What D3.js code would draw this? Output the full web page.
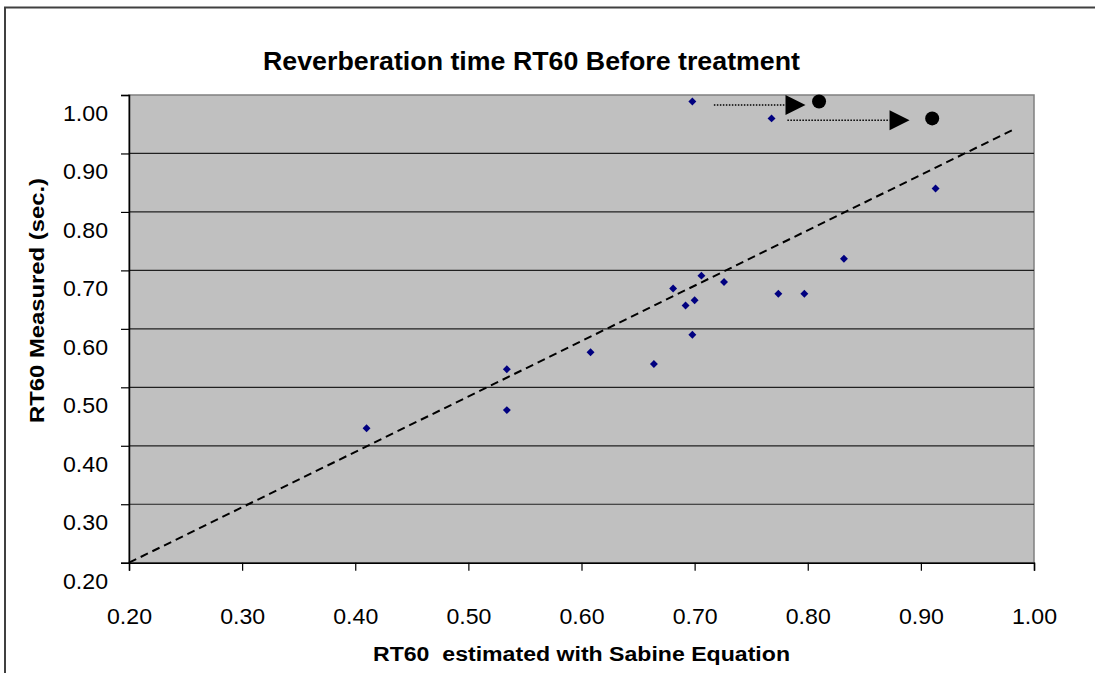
<!DOCTYPE html>
<html>
<head>
<meta charset="utf-8">
<script src="https://cdn.jsdelivr.net/npm/d3@7"></script>
<style>
  body { margin: 0; background: #fff; }
  text { font-family: "Liberation Sans", Arial, sans-serif; }
</style>
</head>
<body>
<div id="content"></div>
<script>
// Measured vs. Sabine-estimated RT60 values (seconds).
var estimated = [0.698, 0.768, 0.913, 0.832, 0.410, 0.534, 0.534, 0.608, 0.664,
                 0.681, 0.692, 0.700, 0.706, 0.726, 0.698, 0.774, 0.797];
var measured  = [0.989, 0.960, 0.840, 0.720, 0.430, 0.531, 0.461, 0.560, 0.540,
                 0.669, 0.640, 0.649, 0.691, 0.680, 0.590, 0.660, 0.660];

// Trend line end points.
var trendX = [0.20, 0.983];
var trendY = [0.20, 0.942];

// Two corrected points: dotted arrow from start to tip, then the new position.
var moveFromX = [0.717, 0.782];
var moveTipX  = [0.798, 0.890];
var moveY     = [0.983, 0.957];
var newX      = [0.810, 0.910];
var newY      = [0.989, 0.960];

var ticks = [0.20, 0.30, 0.40, 0.50, 0.60, 0.70, 0.80, 0.90, 1.00];

var svg = d3.select('#content')
              .append('svg')
              .attr('width', 1095)
              .attr('height', 673);

// Outer chart frame (top and left edges).
svg.append('path')
    .attr('d', 'M5,673V7.5H1095')
    .attr('fill', 'none')
    .attr('stroke', '#404040')
    .attr('stroke-width', 2);

var plot = {left : 129, right : 1034, top : 95, bottom : 562.7};

var x = d3.scaleLinear().domain([ 0.2, 1.0 ]).range([ plot.left, plot.right ]);
var y = d3.scaleLinear().domain([ 0.2, 1.0 ]).range([ plot.bottom, plot.top ]);

// Plot area background.
svg.append('rect')
    .attr('x', plot.left)
    .attr('y', plot.top)
    .attr('width', plot.right - plot.left)
    .attr('height', plot.bottom - plot.top)
    .attr('fill', '#c0c0c0')
    .attr('stroke', '#808080')
    .attr('stroke-width', 1.5);

// Horizontal gridlines.
svg.selectAll('line.grid')
    .data(ticks.slice(1, -1))
    .enter()
    .append('line')
    .attr('class', 'grid')
    .attr('x1', plot.left)
    .attr('x2', plot.right)
    .attr('y1', function(d) { return y(d); })
    .attr('y2', function(d) { return y(d); })
    .attr('stroke', '#202020')
    .attr('stroke-width', 1.2);

// Axes.
var fmt = d3.format('.2f');
var xAxis = svg.append('g')
    .attr('transform', 'translate(0,' + plot.bottom + ')')
    .call(d3.axisBottom(x).tickValues(ticks).tickSize(8).tickFormat(fmt));
var yAxis = svg.append('g')
    .attr('transform', 'translate(' + plot.left + ',0)')
    .call(d3.axisLeft(y).tickValues(ticks).tickSize(8).tickFormat(fmt));

[xAxis, yAxis].forEach(function(a) {
  a.select('.domain').attr('stroke', '#000').attr('stroke-width', 1.5);
  a.selectAll('.tick line').attr('stroke', '#000').attr('stroke-width', 1.2);
  a.selectAll('.tick text')
      .attr('font-family', '"Liberation Sans", Arial, sans-serif')
      .attr('font-size', 22)
      .attr('textLength', 45)
      .attr('lengthAdjust', 'spacingAndGlyphs')
      .attr('fill', '#000');
});
xAxis.selectAll('.tick text').attr('y', 61).attr('dy', 0);
yAxis.selectAll('.tick text').attr('x', -21).attr('dy', 25.5);

// Trend line.
svg.append('line')
    .attr('x1', x(trendX[0]))
    .attr('y1', y(trendY[0]))
    .attr('x2', x(trendX[1]))
    .attr('y2', y(trendY[1]))
    .attr('stroke', '#000')
    .attr('stroke-width', 2)
    .attr('stroke-dasharray', '8,5');

// Measured points as navy diamonds.
var diamond = d3.symbol().type(d3.symbolDiamond2).size(40);
svg.selectAll('path.pt')
    .data(d3.range(estimated.length))
    .enter()
    .append('path')
    .attr('class', 'pt')
    .attr('d', diamond)
    .attr('transform', function(i) {
      return 'translate(' + [ x(estimated[i]), y(measured[i]) ] + ')';
    })
    .attr('fill', '#000080');

// Dotted arrows to corrected positions.
var moves = d3.range(moveY.length);
svg.selectAll('line.move')
    .data(moves)
    .enter()
    .append('line')
    .attr('class', 'move')
    .attr('x1', function(i) { return x(moveFromX[i]); })
    .attr('x2', function(i) { return x(moveTipX[i]) - 20; })
    .attr('y1', function(i) { return y(moveY[i]); })
    .attr('y2', function(i) { return y(moveY[i]); })
    .attr('stroke', '#000')
    .attr('stroke-width', 1.5)
    .attr('stroke-dasharray', '1.5,1.5');

svg.selectAll('path.head')
    .data(moves)
    .enter()
    .append('path')
    .attr('class', 'head')
    .attr('d', function(i) {
      var tx = x(moveTipX[i]), ty = y(moveY[i]);
      return 'M' + (tx - 20) + ',' + (ty - 10) + 'L' + tx + ',' + ty +
             'L' + (tx - 20) + ',' + (ty + 10) + 'Z';
    })
    .attr('fill', '#000');

svg.selectAll('circle.new')
    .data(moves)
    .enter()
    .append('circle')
    .attr('class', 'new')
    .attr('cx', function(i) { return x(newX[i]); })
    .attr('cy', function(i) { return y(newY[i]); })
    .attr('r', 7)
    .attr('fill', '#000');

// Titles, stretched a little wider than the font's natural width.
svg.append('text')
    .attr('x', 263)
    .attr('y', 70)
    .attr('font-size', 25)
    .attr('font-weight', 'bold')
    .attr('textLength', 537)
    .attr('lengthAdjust', 'spacingAndGlyphs')
    .text('Reverberation time RT60 Before treatment');

svg.append('text')
    .attr('x', 373)
    .attr('y', 661)
    .attr('font-size', 19.5)
    .attr('font-weight', 'bold')
    .attr('textLength', 417)
    .attr('lengthAdjust', 'spacingAndGlyphs')
    .style('white-space', 'pre')
    .text('RT60  estimated with Sabine Equation');

svg.append('text')
    .attr('transform', 'translate(44,423) rotate(-90)')
    .attr('font-size', 19.5)
    .attr('font-weight', 'bold')
    .attr('textLength', 245)
    .attr('lengthAdjust', 'spacingAndGlyphs')
    .text('RT60 Measured (sec.)');
</script>
</body>
</html>
